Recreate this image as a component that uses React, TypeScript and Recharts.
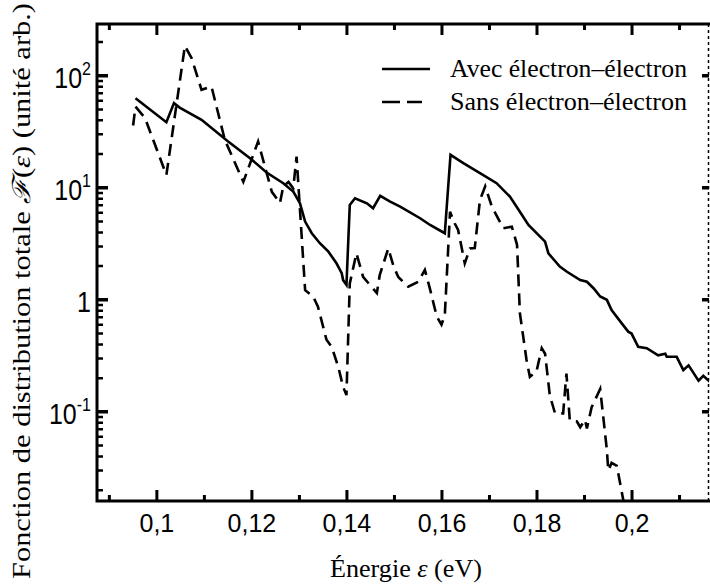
import React from 'react';
import { LineChart, Line, XAxis, YAxis } from 'recharts';

// Avec électron–électron (trait plein)
const avecEnergy = [
  0.0955, 0.102, 0.1036, 0.1048, 0.1094, 0.115, 0.1196, 0.1231, 0.1266, 0.1287,
  0.1301, 0.1312, 0.1326, 0.1343, 0.1361, 0.1378, 0.1389, 0.1392, 0.1399, 0.1406,
  0.1417, 0.1442, 0.1455, 0.147, 0.1491, 0.1512, 0.1554, 0.1575, 0.1606, 0.1618,
  0.1645, 0.168, 0.1715, 0.1743, 0.1764, 0.1782, 0.1817, 0.1824, 0.1848, 0.1863,
  0.1891, 0.1905, 0.1919, 0.1933, 0.1947, 0.1957, 0.1978, 0.1992, 0.1999, 0.2013,
  0.2031, 0.2055, 0.207, 0.2073, 0.2094, 0.2108, 0.2119, 0.214, 0.215, 0.2164,
];
const avecValues = [
  63, 38.5, 57, 52, 40.5, 25.9, 18.4, 13.7, 11.0, 9.25,
  7.3, 5.0, 3.93, 3.2, 2.69, 2.12, 1.73, 1.5, 1.36, 7.03,
  8.07, 7.28, 6.57, 8.47, 7.54, 6.79, 5.35, 4.66, 3.93, 19.7,
  16.6, 13.5, 11.0, 8.34, 6.12, 4.66, 3.31, 2.6, 1.98, 1.78,
  1.5, 1.45, 1.27, 1.07, 1.0, 0.81, 0.62, 0.52, 0.5, 0.38,
  0.37, 0.32, 0.33, 0.31, 0.31, 0.236, 0.26, 0.19, 0.21, 0.185,
];

// Sans électron–électron (tirets)
const sansEnergy = [
  0.095, 0.0955, 0.0975, 0.102, 0.1059, 0.1073, 0.1094, 0.1115, 0.1143, 0.1182,
  0.1213, 0.1242, 0.1259, 0.1266, 0.1277, 0.1287, 0.1294, 0.1312, 0.1329, 0.1339,
  0.1357, 0.1368, 0.1382, 0.1392, 0.1399, 0.1406, 0.142, 0.1434, 0.1463, 0.1469,
  0.1487, 0.1498, 0.1508, 0.1529, 0.155, 0.1564, 0.1575, 0.1589, 0.1599, 0.1606,
  0.1617, 0.1627, 0.1634, 0.1648, 0.1659, 0.1669, 0.168, 0.1691, 0.1705, 0.1729,
  0.1747, 0.1758, 0.1764, 0.1778, 0.1785, 0.1799, 0.181, 0.1817, 0.1827, 0.1838,
  0.1855, 0.1862, 0.1869, 0.1884, 0.1891, 0.1901, 0.1905, 0.1915, 0.1933, 0.1947,
  0.195, 0.1957, 0.1968, 0.1982, 0.199,
];
const sansValues = [
  36, 53, 42, 13, 185, 144, 75, 80, 26.8, 11.3,
  25.9, 9.2, 7.3, 10.3, 11.3, 9.9, 19, 1.22, 1.07, 0.87,
  0.44, 0.38, 0.25, 0.167, 0.141, 1.4, 2.6, 1.6, 1.15, 1.66,
  2.88, 2.0, 1.6, 1.31, 1.45, 1.85, 1.24, 0.71, 0.6, 0.73,
  6.1, 4.8, 4.2, 2.12, 2.88, 2.9, 7.8, 10.3, 6.8, 4.36,
  4.5, 3.1, 0.76, 0.29, 0.205, 0.23, 0.37, 0.33, 0.14, 0.097,
  0.097, 0.22, 0.084, 0.082, 0.073, 0.085, 0.071, 0.11, 0.16, 0.046,
  0.03, 0.035, 0.033, 0.016, 0.011,
];

const seriesNames = ['Avec électron–électron', 'Sans électron–électron'];
const seriesDash = ['', '18 7'];

const xTicks = [0.09, 0.1, 0.11, 0.12, 0.13, 0.14, 0.15, 0.16, 0.17, 0.18, 0.19, 0.2, 0.21];
const xMajorTicks = [0.1, 0.12, 0.14, 0.16, 0.18, 0.2];

const yTicks = [
  0.02, 0.03, 0.04, 0.05, 0.06, 0.07, 0.08, 0.09,
  0.1, 0.2, 0.3, 0.4, 0.5, 0.6, 0.7, 0.8, 0.9,
  1, 2, 3, 4, 5, 6, 7, 8, 9,
  10, 20, 30, 40, 50, 60, 70, 80, 90,
  100, 200,
];
const yMajorTicks = [0.1, 1, 10, 100];
const yTickExp = ['-1', '', '1', '2'];

const X_DOMAIN: [number, number] = [0.0874, 0.2162];
const Y_DOMAIN: [number, number] = [0.016, 290];

const avecData = avecEnergy.map((e, i) => ({ e, f: avecValues[i] }));
const sansData = sansEnergy.map((e, i) => ({ e, f: sansValues[i] }));

const SANS = 'Liberation Sans, Arial, sans-serif';
const SERIF = 'Liberation Serif, serif';

// plot box: chart 710x588, y-axis width 97, x-axis height 87, margins top 24 / right 1
const W = 710;
const H = 588;
const PL = 97;
const PR = W - 1;
const PT = 24;
const PB = H - 87;
const sx = (v: number) => PL + ((v - X_DOMAIN[0]) / (X_DOMAIN[1] - X_DOMAIN[0])) * (PR - PL);
const sy = (v: number) =>
  PT + ((Math.log10(Y_DOMAIN[1]) - Math.log10(v)) / (Math.log10(Y_DOMAIN[1]) - Math.log10(Y_DOMAIN[0]))) * (PB - PT);

const XLabel = (props: any) => {
  const v = props.payload.value;
  if (xMajorTicks.indexOf(v) < 0) return <g />;
  return (
    <text x={props.x} y={Number(props.y) + 31} textAnchor="middle" fontFamily={SANS} fontSize={25} fill="black">
      {String(v).replace('.', ',')}
    </text>
  );
};

const YLabel = (props: any) => {
  const idx = yMajorTicks.indexOf(props.payload.value);
  if (idx < 0) return <g />;
  return (
    <text
      transform={`translate(${Number(props.x) - 6},${Number(props.y) + 12}) scale(1,1.2)`}
      textAnchor="end"
      fontFamily={SANS}
      fontSize={25}
      fill="black"
    >
      {yTickExp[idx] ? '10' : '1'}
      {yTickExp[idx] ? (
        <tspan dy={-11} fontSize={16}>
          {yTickExp[idx]}
        </tspan>
      ) : null}
    </text>
  );
};

// frame, inward ticks, titles and legend drawn above the chart
const Overlay = () => {
  let ticks = '';
  xTicks.forEach((v) => {
    const len = xMajorTicks.indexOf(v) >= 0 ? 11 : 6;
    const x = sx(v);
    ticks += `M${x},${PB}V${PB - len}M${x},${PT}V${PT + len}`;
  });
  let minor = '';
  let major = '';
  yTicks.forEach((v) => {
    const y = sy(v);
    if (yMajorTicks.indexOf(v) >= 0) major += `M${PL},${y}H${PL + 11}M${PR},${y}H${PR - 7}`;
    else minor += `M${PL},${y}H${PL + 6}`;
  });
  return (
    <svg width={W} height={H} style={{ position: 'absolute', left: 0, top: 0, pointerEvents: 'none' }}>
      <path d={`M${PR - 0.5},${PT}V${PB}`} stroke="black" strokeWidth={1.5} strokeDasharray="3 3" fill="none" />
      <path d={`M${PR},${PT}H${PL}V${PB}H${PR}`} stroke="black" strokeWidth={3} fill="none" strokeLinecap="square" />
      <path d={ticks} stroke="black" strokeWidth={3} fill="none" />
      <path d={major} stroke="black" strokeWidth={3.5} fill="none" />
      <path d={minor} stroke="black" strokeWidth={2.5} fill="none" />
      <text
        transform="translate(30,291) rotate(-90)"
        textAnchor="middle"
        fontFamily={SERIF}
        fontSize={25}
        fill="black"
        textLength={576}
        lengthAdjust="spacingAndGlyphs"
      >
        Fonction de distribution totale <tspan fontStyle="italic">ℱ</tspan>(<tspan fontStyle="italic">ε</tspan>) (unité arb.)
      </text>
      <text
        x={406}
        y={577}
        textAnchor="middle"
        fontFamily={SERIF}
        fontSize={25}
        fill="black"
        textLength={152}
        lengthAdjust="spacingAndGlyphs"
      >
        Énergie <tspan fontStyle="italic">ε</tspan> (eV)
      </text>
      {seriesNames.map((name, i) => {
        const cy = 69 + i * 33;
        const dash = seriesDash[i];
        return (
          <g key={name}>
            <line
              x1={382}
              x2={dash ? 422 : 430}
              y1={cy}
              y2={cy}
              stroke="black"
              strokeWidth={2.5}
              strokeDasharray={dash || undefined}
            />
            <text x={450} y={cy + 8} fontFamily={SERIF} fontSize={25} fill="black" textLength={237} lengthAdjust="spacingAndGlyphs">
              {name}
            </text>
          </g>
        );
      })}
    </svg>
  );
};

export default function App() {
  return (
    <div style={{ position: 'absolute', left: 0, top: 0, width: W, height: H, background: 'white' }}>
      <LineChart width={W} height={H} margin={{ top: PT, right: W - PR, bottom: 0, left: 0 }}>
        <XAxis
          type="number"
          dataKey="e"
          domain={X_DOMAIN}
          allowDataOverflow
          ticks={xTicks}
          interval={0}
          height={H - PB}
          tickSize={0}
          tickMargin={0}
          tickLine={false}
          axisLine={false}
          tick={<XLabel />}
        />
        <YAxis
          scale="log"
          domain={Y_DOMAIN}
          allowDataOverflow
          ticks={yTicks}
          interval={0}
          width={PL}
          tickSize={0}
          tickMargin={0}
          tickLine={false}
          axisLine={false}
          tick={<YLabel />}
        />
        <Line
          data={avecData}
          dataKey="f"
          name={seriesNames[0]}
          stroke="black"
          strokeWidth={2.6}
          dot={false}
          isAnimationActive={false}
        />
        <Line
          data={sansData}
          dataKey="f"
          name={seriesNames[1]}
          stroke="black"
          strokeWidth={2.6}
          strokeDasharray="12 7"
          dot={false}
          isAnimationActive={false}
        />
      </LineChart>
      <Overlay />
    </div>
  );
}
